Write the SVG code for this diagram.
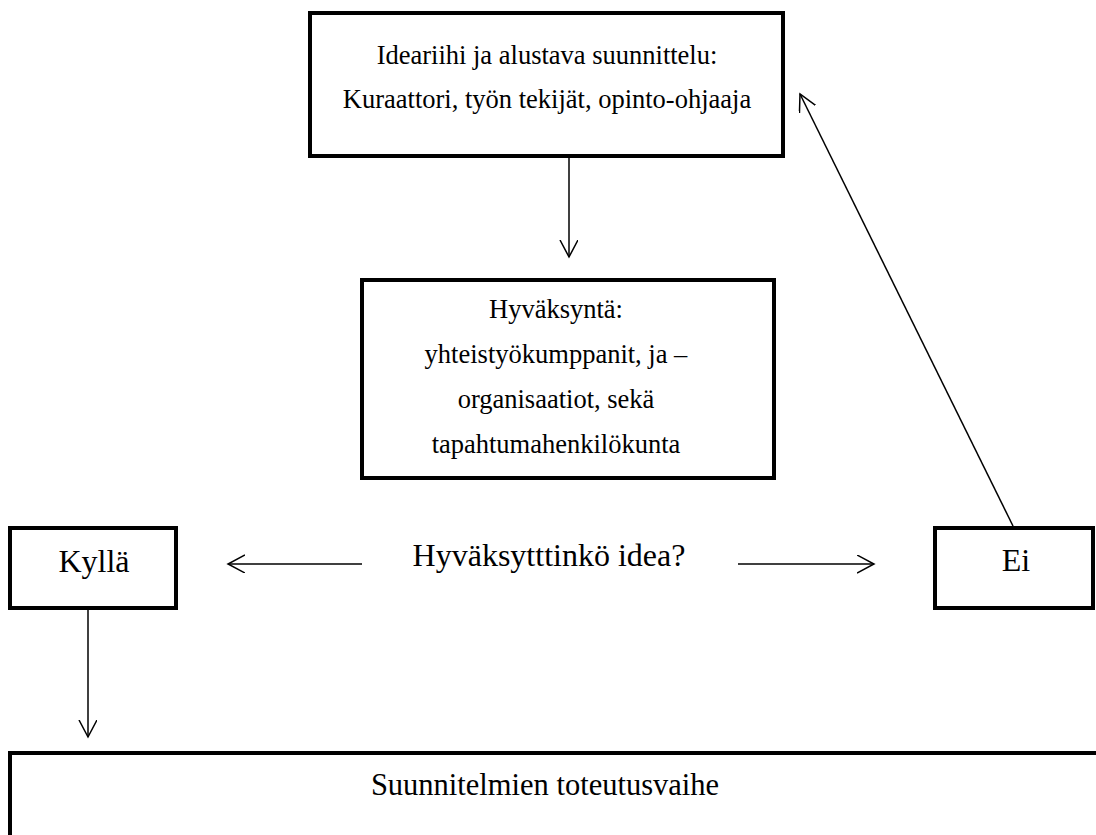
<svg xmlns="http://www.w3.org/2000/svg" width="1096" height="835" viewBox="0 0 1096 835">
<defs>
<marker id="arr" markerWidth="20" markerHeight="20" refX="17" refY="9" orient="auto" markerUnits="userSpaceOnUse">
<path d="M0,0 L17,9 L0,18" fill="none" stroke="#000" stroke-width="1.5"/>
</marker>
</defs>
<style>
.box{fill:#fff;stroke:#000;stroke-width:4}
.t{font-family:"Liberation Serif","Times New Roman",serif;fill:#000;text-anchor:middle}
.s{font-size:26.5px}
.l{font-size:32px}
.c{fill:none;stroke:#000;stroke-width:1.5;marker-end:url(#arr)}
</style>
<rect width="1096" height="835" fill="#fff"/>
<g id="connectors">
<line class="c" x1="569" y1="158" x2="569" y2="257"/>
<line class="c" x1="362" y1="564" x2="228" y2="564"/>
<line class="c" x1="738" y1="564" x2="874" y2="564"/>
<line class="c" x1="1013" y1="526" x2="800" y2="94"/>
<line class="c" x1="88" y1="610" x2="88" y2="737"/>
</g>
<g id="idea">
<rect class="box" x="310" y="13" width="473" height="143"/>
<text class="t s" x="547" y="64">Ideariihi ja alustava suunnittelu:</text>
<text class="t s" x="547" y="108">Kuraattori, työn tekijät, opinto-ohjaaja</text>
</g>
<g id="hyvaksynta">
<rect class="box" x="362" y="280" width="412" height="198"/>
<text class="t s" x="556" y="318">Hyväksyntä:</text>
<text class="t s" x="556" y="363">yhteistyökumppanit, ja –</text>
<text class="t s" x="556" y="408">organisaatiot, sekä</text>
<text class="t s" x="556" y="453">tapahtumahenkilökunta</text>
</g>
<g id="question">
<text class="t l" x="549" y="566">Hyväksytttinkö idea?</text>
</g>
<g id="kylla">
<rect class="box" x="10" y="528" width="166" height="80"/>
<text class="t l" x="94" y="572">Kyllä</text>
</g>
<g id="ei">
<rect class="box" x="935" y="528" width="158" height="80"/>
<text class="t l" x="1016" y="571">Ei</text>
</g>
<g id="toteutus">
<rect class="box" x="10" y="753" width="1100" height="100"/>
<text class="t" style="font-size:30.5px" x="545" y="795">Suunnitelmien toteutusvaihe</text>
</g>
</svg>
